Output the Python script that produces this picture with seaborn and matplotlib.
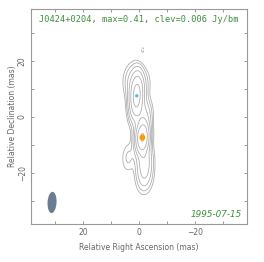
import numpy as np
import pandas as pd
import matplotlib
matplotlib.use("Agg")
import matplotlib.pyplot as plt
from matplotlib.patches import Ellipse
import seaborn as sns

# ---- data ----
source = "J0424+0204"
peak_flux = 0.41
clev = 0.006
epoch = "1995-07-15"

# model components: RA offset (mas), Dec offset (mas), peak (Jy/bm), intrinsic size x/y (mas)
comp_x = [0.8, -1.2, -2.0, 3.0, -2.0, -2.0, 3.8, -2.5, -1.2]
comp_y = [7.5, -7.4, 0.0, 13.0, -16.0, -21.5, -14.5, 12.0, 23.3]
comp_f = [0.27, 0.41, 0.05, 0.02, 0.07, 0.03, 0.014, 0.008, -0.0068]
comp_sx = [1.0, 0.0, 1.5, 2.5, 2.0, 2.5, 1.5, 1.0, 0.0]
comp_sy = [8.0, 0.0, 4.0, 4.0, 4.0, 3.0, 2.0, 2.0, 0.0]

# marked components
mark_x = [0.8, -1.2]
mark_y = [7.5, -7.4]
mark_kind = ["jet", "core"]

# restoring beam (mas): major, minor, position angle (deg)
beam_major = 7.6
beam_minor = 3.2
beam_pa = -3.0
beam_x, beam_y = 31.0, -30.6

# contour multipliers
level_mult = [-1, 1, 2, 4, 8, 16, 32, 64]

# ---- build image ----
ra = np.linspace(40, -40, 401)
dec = np.linspace(-40, 40, 401)
X, Y = np.meshgrid(ra, dec)
pa = np.deg2rad(beam_pa)
Z = np.zeros_like(X)
for cx, cy, cf, sx, sy in zip(comp_x, comp_y, comp_f, comp_sx, comp_sy):
    dx = X - cx
    dy = Y - cy
    u = dx * np.cos(pa) - dy * np.sin(pa)
    v = dx * np.sin(pa) + dy * np.cos(pa)
    wx = np.hypot(beam_minor, sx)
    wy = np.hypot(beam_major, sy)
    Z += cf * np.exp(-4 * np.log(2) * ((u / wx) ** 2 + (v / wy) ** 2))

levels = [clev * m for m in level_mult]

sns.set_style("white")
plt.rcParams["font.family"] = ["DejaVu Sans"]

fig = plt.figure(figsize=(2.64, 2.62), dpi=100)
ax = fig.add_axes([31 / 264, 38 / 262, 216 / 264, 215 / 262])

neg = [l for l in levels if l < 0]
pos = [l for l in levels if l > 0]
ccol = "#a8a8a8"
ax.contour(X, Y, Z, levels=neg, colors=ccol, linewidths=0.55, linestyles="dashed")
ax.contour(X, Y, Z, levels=pos, colors=ccol, linewidths=0.55, linestyles="solid")

df = pd.DataFrame({"x": mark_x, "y": mark_y, "kind": mark_kind})
sns.scatterplot(data=df, x="x", y="y", hue="kind", size="kind",
                palette={"jet": "#5ab8f5", "core": "#ff9a00"},
                sizes={"jet": 6, "core": 18}, linewidth=0, legend=False, ax=ax, zorder=5)

ax.add_patch(Ellipse((beam_x, beam_y), width=beam_minor, height=beam_major,
                     angle=-beam_pa, facecolor="#6a7d90", edgecolor="none"))

ax.set_xlim(38.5, -38.5)
ax.set_ylim(-38.3, 38.5)
ax.set_aspect("auto")

ax.set_xticks([20, 0, -20])
ax.set_yticks([-20, 0, 20])
ax.set_xticks([30, 10, -10, -30], minor=True)
ax.set_yticks([-30, -10, 10, 30], minor=True)
ax.set_xticklabels(["20", "0", "\u221220"])
ax.set_yticklabels(["\u221220", "0", "20"], rotation=90, va="center")
ax.tick_params(which="both", direction="in", top=True, right=True, bottom=True, left=True,
               length=2.5, width=0.6, color="#888888", labelsize=5.5, labelcolor="#666666", pad=3)
for s in ax.spines.values():
    s.set_color("#999999")
    s.set_linewidth(0.8)

ax.set_xlabel("Relative Right Ascension (mas)", fontsize=5.5, color="#666666", labelpad=4)
ax.set_ylabel("Relative Declination (mas)", fontsize=5.5, color="#666666", labelpad=0.5)

ax.text(0.5, 0.949, f"{source}, max={peak_flux:.2f}, clev={clev:.3f} Jy/bm",
        transform=ax.transAxes, ha="center", va="center", fontsize=6.2,
        color="#3d8f3d", family="DejaVu Sans Mono")
ax.text(0.975, 0.042, epoch, transform=ax.transAxes, ha="right", va="center",
        fontsize=6.3, color="#3d8f3d", style="italic")

fig.savefig("out.png", dpi=100)
